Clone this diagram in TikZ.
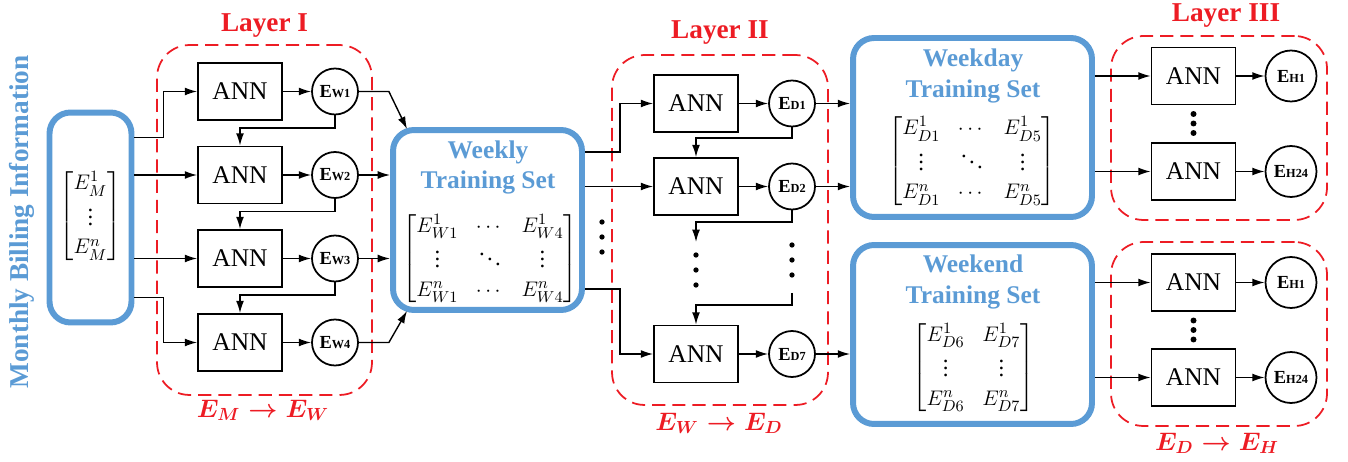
\documentclass[tikz,border=0pt]{standalone}
\usepackage{amsmath}
\usepackage{fontspec}
\setmainfont{Liberation Serif}
\usetikzlibrary{arrows.meta,positioning,calc}
\definecolor{setblue}  {RGB}{91,155,213}
\definecolor{layerred} {RGB}{237,28,36}
\newcommand{\errlbl}[1]{E{\fontsize{7}{8}\selectfont #1}}
\newcommand{\matsetup}{\renewcommand{\arraystretch}{1.05}}

\begin{document}
\begin{tikzpicture}[
  x=0.02cm, y=-0.02cm, >={Latex[length=7pt,width=4.5pt]}, line width=0.8pt,
  ann/.style={draw, line width=1pt, minimum width=1.68cm, minimum height=1.14cm,
    inner sep=0pt, font=\fontsize{14.5}{16}\selectfont},
  err/.style={draw, circle, line width=1pt, minimum size=0.92cm, inner sep=0pt,
    font=\fontsize{10.5}{12}\selectfont\bfseries},
  errh/.style={err, minimum size=1.02cm},
  tset/.style={draw=setblue, line width=3.4pt, rounded corners=0.42cm},
  layer/.style={draw=layerred, line width=1pt, dash pattern=on 7.5pt off 4pt,
    rounded corners=0.65cm},
  lyrtitle/.style={anchor=base, text=layerred, font=\fontsize{15.5}{18}\selectfont\bfseries},
  maplbl/.style={anchor=base, text=layerred, font=\fontsize{14.5}{16}\selectfont\boldmath},
  settitle/.style={align=center, text=setblue, font=\fontsize{14.5}{17.5}\selectfont\bfseries},
  mat/.style={font=\fontsize{13}{15.6}\selectfont\matsetup},
]
\useasboundingbox (0,0) rectangle (1348,462);

%-- Monthly input
\node[tset, minimum width=1.64cm, minimum height=4.2cm] (mon) at (90.5,217.5) {};
\node[mat] (monmat) at (90.5,216)
  {$\begin{bmatrix} E_M^1\\ \vdots\\ E_M^n \end{bmatrix}$};
\node[rotate=90, text=setblue, font=\fontsize{15.5}{18}\selectfont\bfseries]
  (montitle) at (22,222) {Monthly Billing Information};

%-- LAYER I: monthly -> weekly
\node[layer, minimum width=4.3cm, minimum height=7cm] (lyrI) at (264.5,220) {};
\node[lyrtitle] (tI) at (264.5,32) {Layer I};
\node[maplbl] (mapI) at (263,417) {$E_M \rightarrow E_W$};
\foreach \i/\y in {1/91.5,2/175,3/258.5,4/342.5}{
  \node[ann] (aw\i) at (240,\y) {ANN};
  \node[err] (ew\i) at (335,\y) {\errlbl{W\i}};
  \draw[->] (aw\i) -- (ew\i);
}
\foreach \i/\j in {1/2,2/3,3/4}{ \draw[->] (ew\i.south) -- ++(0,12.5) -| (aw\j.north); }
\draw[->] ([yshift=1.6cm]mon.east) -- ++(29,0) |- (aw1);
\draw[->] (mon.east |- aw2) -- (aw2);
\draw[->] (mon.east |- aw3) -- (aw3);
\draw[->] ([yshift=-1.6cm]mon.east) -- ++(29,0) |- (aw4);

%-- Weekly training set
\node[tset, minimum width=3.78cm, minimum height=3.6cm] (wk) at (487.5,220) {};
\node[settitle] (wkT) at (488,167.5) {Weekly\\Training Set};
\node[mat] (wkmat) at (490,258.5)
  {$\begin{bmatrix} E_{W1}^1 & \cdots & E_{W4}^1\\ \vdots & \ddots & \vdots\\
    E_{W1}^n & \cdots & E_{W4}^n \end{bmatrix}$};
\draw[->] (ew1.east) -- ++(30,0) -- ($(wk.north west)+(17,2)$);
\draw[->] (ew2) -- (ew2 -| wk.west);
\draw[->] (ew3) -- (ew3 -| wk.west);
\draw[->] (ew4.east) -- ++(30,0) -- ($(wk.south west)+(17,-2)$);
\foreach \y in {222,237,252}{ \fill (602,\y) circle (1.5pt); }

%-- LAYER II: weekly -> daily
\node[layer, minimum width=4.32cm, minimum height=7cm] (lyrII) at (720,230) {};
\node[lyrtitle] (tII) at (720,39) {Layer II};
\node[maplbl] (mapII) at (719,430) {$E_W \rightarrow E_D$};
\foreach \i/\y in {1/103.5,2/186.5,7/354}{
  \node[ann] (ad\i) at (696,\y) {ANN};
  \node[err] (ed\i) at (792,\y) {\errlbl{D\i}};
  \draw[->] (ad\i) -- (ed\i);
}
\draw[->] ([yshift=1.36cm]wk.east) -- ++(35,0) |- (ad1);
\draw[->] (wk.east |- ad2) -- (ad2);
\draw[->] ([yshift=-1.38cm]wk.east) -- ++(35,0) |- (ad7);
\draw[->] (ed1.south) -- ++(0,10.5) -| (ad2.north);
\coordinate (gapL) at (696,242);
\coordinate (gapR) at (792,293);
\draw[->] (ed2.south) -- ++(0,11.5) -| (gapL);
\foreach \y in {255,270,285}{ \fill (696,\y) circle (1.5pt); }
\foreach \y in {245,260,275}{ \fill (792,\y) circle (1.5pt); }
\draw[->] (gapR) -- ++(0,12) -| (ad7.north);

%-- Weekday / weekend training sets
\node[tset, minimum width=4.78cm, minimum height=3.58cm] (wd) at (972.5,127.5) {};
\node[settitle] (wdT) at (973,76) {Weekday\\Training Set};
\node[mat] (wdmat) at (972,161)
  {$\begin{bmatrix} E_{D1}^1 & \cdots & E_{D5}^1\\ \vdots & \ddots & \vdots\\
    E_{D1}^n & \cdots & E_{D5}^n \end{bmatrix}$};
\node[tset, minimum width=4.78cm, minimum height=3.58cm] (we) at (972.5,334.5) {};
\node[settitle] (weT) at (973,282) {Weekend\\Training Set};
\node[mat] (wemat) at (973.5,367.5)
  {$\begin{bmatrix} E_{D6}^1 & E_{D7}^1\\ \vdots & \vdots\\
    E_{D6}^n & E_{D7}^n \end{bmatrix}$};
\draw[->] (ed1) -- (ed1 -| wd.west);
\draw[->] (ed2) -- (ed2 -| wd.west);
\draw[->] (ed7) -- (ed7 -| we.west);

%-- LAYER III: daily -> hourly
\node[layer, minimum width=4.32cm, minimum height=3.68cm] (lyrIIIa) at (1219,128) {};
\node[layer, minimum width=4.32cm, minimum height=3.68cm] (lyrIIIb) at (1219,334) {};
\node[lyrtitle] (tIII) at (1226,22) {Layer III};
\node[maplbl] (mapIII) at (1217,450) {$E_D \rightarrow E_H$};
\foreach \s/\src/\ya/\yb in {a/wd/76/171.5, b/we/282.5/377.5}{
  \node[ann]  (ahA\s) at (1193.5,\ya) {ANN};
  \node[errh] (ehA\s) at (1291,\ya) {\errlbl{H1}};
  \node[ann]  (ahB\s) at (1193.5,\yb) {ANN};
  \node[errh] (ehB\s) at (1291,\yb) {\errlbl{H24}};
  \draw[->] (\src.east |- ahA\s) -- (ahA\s);
  \draw[->] (\src.east |- ahB\s) -- (ahB\s);
  \draw[->] (ahA\s) -- (ehA\s);
  \draw[->] (ahB\s) -- (ehB\s);
  \foreach \d in {38,47.5,57}{ \fill (1193.5,\ya+\d) circle (1.7pt); }
}

\end{tikzpicture}
\end{document}
